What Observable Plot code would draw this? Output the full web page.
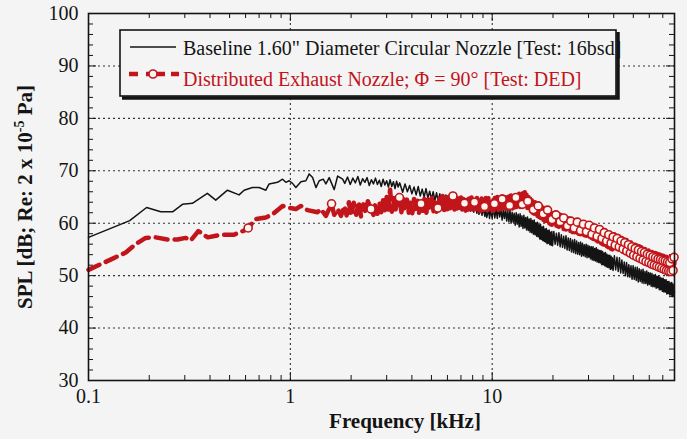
<!DOCTYPE html>
<html><head><meta charset="utf-8">
<script src="https://cdn.jsdelivr.net/npm/d3@7"></script>
<script src="https://cdn.jsdelivr.net/npm/@observablehq/plot@0.6"></script>
<style>
html,body{margin:0;padding:0;background:#f4f4f4;}
#chart{position:relative;width:687px;height:439px;}
</style></head><body><div id="chart"></div>
<script>
// Baseline 1.60" circular nozzle [16bsd]
const baseFreq = [0.10,0.16,0.194,0.228,0.262,0.292,0.327,0.388,0.427,0.488,0.557,0.590,0.649,0.700,0.756,0.785,0.864,0.915,0.950,0.986,1.025,1.065,1.128,1.194,1.240,1.289,1.339,1.390,1.455,1.500,1.558,1.649,1.715,1.816,
1.86,1.92,1.98,2.04,2.10,2.16,2.22,2.28,2.34,2.40,2.46,2.52,2.58,2.64,2.70,2.76,2.82,2.88,2.94,3.00,3.06,3.12,3.18,3.24,3.30,3.36,3.42,3.48,
3.6,3.7,3.8,3.9,4.0,4.1,4.2,4.3,4.4,4.5,4.6,4.7,4.8,4.9,5.0,5.1,5.2,5.3,5.4,5.5,5.6,5.7,5.8,5.9,6.0,6.2,6.3,6.4,6.5,6.6,6.7,6.8,6.9,7.0,7.1,7.2,7.3,7.5,7.6,7.7,7.8,8.0,8.1,8.2,8.4,8.5,8.6,8.8,8.9,9.0,9.2,9.3,9.4,9.6,9.7,9.8,10.0,
10.15,10.3,10.45,10.6,10.75,10.9,11.05,11.2,11.35,11.5,11.65,11.8,11.95,12.1,12.25,12.4,12.55,12.7,12.85,13.0,13.15,13.3,13.45,13.6,13.75,13.9,14.05,14.2,14.35,14.5,14.65,14.8,14.95,15.1,15.25,15.4,15.55,15.7,15.85,16.0,16.15,16.3,16.45,16.6,16.75,16.9,17.05,17.2,17.35,17.5,17.65,17.8,17.95,18.1,18.25,18.4,18.55,18.7,18.85,19.0,19.15,19.3,19.45,19.6,19.75,19.9,
20.2,20.5,20.8,21.1,21.4,21.7,22.0,22.3,22.6,22.9,23.2,23.5,23.8,24.1,24.4,24.7,25.0,25.3,25.6,25.9,26.2,26.5,26.8,27.1,27.4,27.7,28.0,28.3,28.6,28.9,29.2,29.5,29.8,30.1,30.4,30.7,31.0,31.3,31.6,31.9,32.2,32.5,32.8,33.1,33.4,33.7,34.0,34.3,34.6,34.9,35.2,35.5,35.8,36.1,36.4,36.7,37.0,37.3,37.6,37.9,38.2,38.5,38.8,39.1,39.4,39.7,
40.3,40.9,41.5,42.1,42.7,43.3,43.9,44.5,45.1,45.7,46.3,46.9,47.5,48.1,48.7,49.3,49.9,50.5,51.1,51.7,52.3,52.9,53.5,54.1,54.7,55.3,55.9,56.5,57.1,57.7,58.3,58.9,59.5,60.1,60.7,61.3,61.9,62.5,63.1,63.7,64.3,64.9,65.5,66.1,66.7,67.3,67.9,68.5,69.1,69.7,70.3,70.9,71.5,72.1,72.7,73.3,73.9,74.5,75.1,75.7,76.3,76.9,77.5,78.1,78.7,79.3,80.0];
const baseSpl = [57.3,60.5,63.0,62.2,62.2,63.6,63.8,65.7,64.4,66.3,65.4,66.3,66.8,66.8,66.3,67.5,67.8,68.4,67.8,68.1,67.6,66.8,67.9,68.1,69.4,68.7,66.8,68.1,68.4,67.5,68.7,66.4,69.0,68.4,
67.6,68.8,67.4,68.6,67.7,68.9,67.3,68.5,67.8,68.7,67.2,68.3,67.5,68.6,67.4,68.2,67.0,68.4,67.3,68.1,66.9,68.3,67.0,67.9,66.6,68.0,66.9,67.7,
65.9,67.5,66.0,67.2,65.6,66.9,65.4,67.0,65.2,66.5,65.0,66.6,64.8,66.1,64.6,66.0,64.3,65.8,64.2,65.6,63.9,65.3,63.8,65.4,63.6,65.0,63.5,64.9,63.2,64.6,63.0,64.5,62.9,64.6,62.8,64.2,62.6,64.0,62.4,63.9,62.3,63.7,62.1,63.5,61.9,63.4,61.7,63.1,61.5,62.9,61.3,62.8,61.1,62.6,60.9,62.4,61.0,
63.1,61.0,62.7,60.9,63.0,61.2,62.8,60.6,62.5,60.9,62.7,60.4,62.3,60.3,62.5,60.0,62.1,60.2,61.9,59.6,62.0,59.8,61.7,59.3,61.8,59.4,61.4,59.0,61.5,59.1,61.1,58.7,61.2,58.6,60.8,58.3,60.9,58.2,60.5,57.9,60.6,57.8,60.1,57.5,60.2,57.4,59.7,57.0,59.8,56.9,59.3,56.7,59.4,56.5,58.9,56.4,59.0,56.1,58.6,56.2,58.7,55.9,58.3,55.8,58.4,55.7,
58.4,56.0,58.1,55.8,58.2,55.5,57.8,55.4,57.5,55.2,57.6,54.9,57.2,54.8,57.1,54.5,56.8,54.4,56.9,54.2,56.6,54.1,56.3,54.0,56.4,53.7,56.2,53.8,55.9,53.6,56.0,53.4,55.8,53.5,55.6,53.2,55.5,53.0,55.5,52.9,55.2,52.8,55.3,52.6,55.0,52.5,54.8,52.4,54.8,52.1,54.6,52.1,54.3,51.9,54.4,51.7,54.1,51.6,53.9,51.5,53.9,51.2,53.7,51.3,53.4,51.0,
53.8,51.1,53.5,50.8,53.4,50.5,53.0,50.4,52.6,50.0,52.5,49.8,52.1,49.7,51.9,49.3,51.9,49.3,51.6,49.1,51.6,48.8,51.3,48.9,51.1,48.6,51.2,48.5,50.8,48.5,50.9,48.2,50.6,48.3,50.5,48.0,50.4,47.9,50.1,47.9,50.2,47.6,49.9,47.7,49.9,47.3,49.7,47.3,49.5,47.0,49.5,46.9,49.2,46.9,49.2,46.5,48.9,46.6,48.9,46.3,48.6,46.3,48.7,46.0,48.4,46.2,47.0];

// Distributed exhaust nozzle, Phi = 90 deg [DED]
const dedFreq = [0.100,0.131,0.153,0.171,0.192,0.215,0.246,0.276,0.303,0.321,0.350,0.390,0.452,0.526,0.590,0.618,0.674,0.756,0.817,0.915,0.969,1.065,1.128,1.217,1.364,1.416,1.500,1.600,1.649,1.715,1.782,1.850,
1.90,1.95,2.00,2.06,2.12,2.18,2.24,2.30,2.36,2.42,2.51,2.58,2.64,2.70,2.76,2.82,2.88,2.94,3.00,3.06,3.12,3.18,3.24,3.30,3.38,3.47,3.55,3.62,3.70,3.78,3.86,3.94,4.02,4.10,4.18,4.26,4.34,4.44,4.52,4.62,4.72,4.82,4.92,5.02,5.12,5.22,5.30,5.38,5.48,5.58,5.68,5.78,5.88,5.98,6.08,6.18,6.28,6.39,6.50,6.60,6.70,6.80,6.90,7.00,7.10,7.20,7.29,7.40,7.50,7.60,7.70,7.80,7.90,8.00,8.17,8.30,8.40,8.50,8.62,8.74,8.86,9.00,9.16,9.30,9.44,9.58,9.72,9.86,10.00,
10.15,10.3,10.45,10.6,10.75,10.9,11.05,11.2,11.35,11.5,11.65,11.8,11.95,12.1,12.25,12.4,12.55,12.7,12.85,13.0,13.15,13.3,13.45,13.6,13.75,13.9,14.05,14.2,14.35,14.5,14.65,14.8,14.95,15.1,15.25,15.4,15.55,15.7,15.85,16.0,16.15,16.3,16.45,16.6,16.75,16.9,17.05,17.2,17.35,17.5,17.65,17.8,17.95,18.1,18.25,18.4,18.55,18.7,18.85,19.0,19.15,19.3,19.45,19.6,19.75,19.9,
20.2,20.5,20.8,21.1,21.4,21.7,22.0,22.3,22.6,22.9,23.2,23.5,23.8,24.1,24.4,24.7,25.0,25.3,25.6,25.9,26.2,26.5,26.8,27.1,27.4,27.7,28.0,28.3,28.6,28.9,29.2,29.5,29.8,30.1,30.4,30.7,31.0,31.3,31.6,31.9,32.2,32.5,32.8,33.1,33.4,33.7,34.0,34.3,34.6,34.9,35.2,35.5,35.8,36.1,36.4,36.7,37.0,37.3,37.6,37.9,38.2,38.5,38.8,39.1,39.4,39.7,
40.3,40.9,41.5,42.1,42.7,43.3,43.9,44.5,45.1,45.7,46.3,46.9,47.5,48.1,48.7,49.3,49.9,50.5,51.1,51.7,52.3,52.9,53.5,54.1,54.7,55.3,55.9,56.5,57.1,57.7,58.3,58.9,59.5,60.1,60.7,61.3,61.9,62.5,63.1,63.7,64.3,64.9,65.5,66.1,66.7,67.3,67.9,68.5,69.1,69.7,70.3,70.9,71.5,72.1,72.7,73.3,73.9,74.5,75.1,75.7,76.3,76.9,77.5,78.1,78.7,79.3,80.0];
const dedSpl = [51.1,53.2,54.4,56.0,57.2,57.3,56.9,56.9,57.2,56.7,58.5,57.3,57.8,57.8,58.6,59.1,60.8,61.1,61.7,63.3,63.0,62.7,63.3,62.5,62.1,62.7,61.4,63.7,61.6,62.7,61.4,63.3,
61.5,64.0,61.4,63.9,61.6,64.1,61.3,63.6,62.0,64.2,62.7,61.6,63.8,61.8,64.0,62.1,64.4,62.3,65.0,62.6,66.4,62.2,64.8,62.0,64.3,64.9,62.1,64.6,62.3,64.5,62.0,64.2,61.9,64.6,62.2,64.3,62.0,63.7,62.1,64.9,62.0,64.5,62.4,64.8,62.3,64.6,62.2,62.9,64.7,62.4,65.2,62.5,64.9,62.6,65.0,62.7,64.8,65.2,62.6,64.9,62.8,64.7,62.5,64.9,62.6,64.6,63.8,62.4,64.8,62.6,64.7,62.3,64.9,62.6,64.0,62.5,64.8,62.6,64.6,62.3,64.7,62.5,63.2,64.8,62.4,64.9,62.7,64.7,62.6,
62.4,64.8,62.6,65.0,62.5,64.9,62.7,65.1,62.6,65.0,62.8,65.2,62.7,65.1,62.9,65.3,62.8,65.2,63.0,65.4,63.1,65.3,63.2,65.6,63.1,65.5,63.3,65.7,63.4,65.9,63.5,65.8,62.9,65.0,62.6,64.7,62.3,64.4,62.0,64.2,61.8,64.0,61.6,63.8,61.4,63.6,61.2,63.4,61.0,63.2,60.8,63.0,60.6,62.8,60.4,62.6,60.3,62.4,60.1,62.3,60.0,62.1,59.8,62.0,59.7,61.9,
59.6,62.0,59.5,61.8,59.3,61.6,59.1,61.4,58.9,61.2,58.8,61.0,58.6,60.9,58.5,60.7,58.3,60.6,58.2,60.5,58.1,60.4,58.0,60.3,57.9,60.2,57.8,60.1,57.7,60.0,57.6,59.9,57.5,59.8,57.4,59.6,57.2,59.4,57.0,59.2,56.8,59.1,56.7,58.9,56.5,58.8,56.4,58.6,56.2,58.4,56.0,58.3,55.9,58.1,55.7,58.0,55.6,57.9,55.4,57.7,55.3,57.6,55.1,57.5,55.0,57.3,
57.9,55.2,57.7,55.0,57.4,54.8,57.2,54.5,57.0,54.3,56.8,54.1,56.6,53.9,56.3,53.6,56.1,53.4,55.9,53.2,55.7,53.0,55.6,52.9,55.4,52.7,55.3,52.6,55.1,52.4,55.0,52.3,54.8,52.1,54.7,52.0,54.5,51.8,54.4,51.7,54.3,51.6,54.2,51.5,54.1,51.4,54.0,51.3,53.9,51.2,53.8,51.1,53.7,51.0,53.6,50.9,53.5,50.8,53.4,50.7,53.4,50.6,53.3,50.6,53.2,50.5,52.8];

// Symbols drawn on the DED curve
const markFreq = [0.618,1.60,2.51,3.47,4.44,5.38,6.39,7.29,8.17,9.16,10.26,11.2,12.2,13.1,14.1,15.0,16.0,16.9,17.9,18.8,19.8,20.7,21.7,22.6,23.6,24.5,25.5,26.4,27.4,28.3,29.3,30.2,31.2,32.1,33.1,34.0,35.0,35.9,36.9,37.8,38.8,39.7,40.7,41.6,42.6,43.5,44.5,45.4,46.4,47.3,48.3,49.2,50.2,51.1,52.1,53.0,54.0,54.9,55.9,56.8,57.8,58.7,59.7,60.6,61.6,62.5,63.5,64.4,65.4,66.3,67.3,68.2,69.2,70.1,71.1,72.0,73.0,73.9,74.9,75.8,76.8,77.7,78.7,79.6];
const markSpl = [59.1,63.7,62.7,64.9,63.7,62.9,65.2,63.8,64.0,63.2,63.7,64.6,63.4,64.9,63.6,64.2,62.6,63.3,61.8,62.5,60.7,61.6,60.3,61.0,59.5,60.4,59.1,60.2,58.6,59.8,58.4,59.6,57.9,59.1,57.5,58.8,57.1,58.2,56.6,57.8,56.2,57.4,55.8,57.1,55.5,56.6,55.1,56.3,54.7,55.9,54.3,55.5,53.9,55.2,53.6,54.9,53.3,54.6,53.0,54.4,52.7,54.1,52.5,53.9,52.2,53.6,52.0,53.4,51.8,53.2,51.6,53.1,51.4,52.9,51.2,52.8,51.0,52.6,50.9,52.5,50.8,53.2,51.0,53.5];

const yTickLabels = [30,40,50,60,70,80,90,100];
const yGrid = [40,50,60,70,80,90];
const yMinor = [32,34,36,38,42,44,46,48,52,54,56,58,62,64,66,68,72,74,76,78,82,84,86,88,92,94,96,98];
const xTickLabels = [0.1,1,10,80];
const xGrid = [1,10];
const xMinor = [0.2,0.3,0.4,0.5,0.6,0.7,0.8,0.9,2,3,4,5,6,7,8,9,20,30,40,50,60,70];

const RED = "#c1151b", INK = "#141414", BG = "#f4f4f4";
const W = 687, H = 439, ML = 88, MR = 13, MT = 13, MB = 59;
const IW = W - ML - MR, IH = H - MT - MB;

const bi = d3.range(baseFreq.length), di = d3.range(dedFreq.length), mi = d3.range(markFreq.length);

const plot = Plot.plot({
  width: W, height: H,
  marginLeft: ML, marginRight: MR, marginTop: MT, marginBottom: MB,
  style: {background: BG, fontFamily: "Liberation Serif", fontSize: "20px", color: INK},
  x: {type: "log", domain: [0.1, 80]},
  y: {domain: [30, 100]},
  marks: [
    Plot.ruleY(yGrid, {y: d => d, stroke: "#333", strokeWidth: 1.1, strokeDasharray: "2,3"}),
    Plot.ruleX(xGrid, {x: d => d, stroke: "#333", strokeWidth: 1.1, strokeDasharray: "2,3"}),
    Plot.tickY(yMinor, {y: d => d, insetRight: IW - 5, stroke: INK}),
    Plot.tickY(yGrid, {y: d => d, insetRight: IW - 8, stroke: INK}),
    Plot.tickY(yMinor, {y: d => d, insetLeft: IW - 5, stroke: INK}),
    Plot.tickY(yGrid, {y: d => d, insetLeft: IW - 8, stroke: INK}),
    Plot.tickX(xMinor, {x: d => d, insetTop: IH - 5, stroke: INK}),
    Plot.tickX(xGrid, {x: d => d, insetTop: IH - 8, stroke: INK}),
    Plot.tickX(xMinor, {x: d => d, insetBottom: IH - 5, stroke: INK}),
    Plot.tickX(xGrid, {x: d => d, insetBottom: IH - 8, stroke: INK}),
    Plot.line(bi, {x: i => baseFreq[i], y: i => baseSpl[i], stroke: INK, strokeWidth: 1.5}),
    Plot.line(di, {x: i => dedFreq[i], y: i => dedSpl[i], stroke: RED, strokeWidth: 4.5, strokeDasharray: "12,7"}),
    Plot.dot(mi, {x: i => markFreq[i], y: i => markSpl[i], r: 4, stroke: RED, strokeWidth: 1.6, fill: "#fbf6f0"}),
    Plot.frame({stroke: INK, strokeWidth: 1.6}),
    Plot.axisY({ticks: yTickLabels, tickSize: 0, tickPadding: 10, label: null, fontSize: 20}),
    Plot.axisX({ticks: xTickLabels, tickFormat: d => String(d), tickSize: 0, tickPadding: 8, label: null, fontSize: 20})
  ]
});
document.getElementById("chart").appendChild(plot);

const svg = d3.select(plot);
// axis titles
svg.append("text").attr("x", 405).attr("y", 428).attr("text-anchor", "middle")
  .attr("font-family", "Liberation Serif").attr("font-weight", "bold").attr("font-size", 21).attr("fill", INK)
  .text("Frequency [kHz]");
const yt = svg.append("text").attr("transform", "translate(32,197) rotate(-90)").attr("text-anchor", "middle")
  .attr("font-family", "Liberation Serif").attr("font-weight", "bold").attr("font-size", 21).attr("fill", INK);
yt.append("tspan").text("SPL [dB; Re: 2 x 10");
yt.append("tspan").attr("dy", -8).attr("font-size", 14).text("-5");
yt.append("tspan").attr("dy", 8).text(" Pa]");

// legend
const lg = svg.append("g").attr("font-family", "Liberation Serif").attr("text-anchor", "start");
lg.append("rect").attr("x", 120).attr("y", 30).attr("width", 496).attr("height", 66).attr("fill", BG);
lg.append("line").attr("x1", 130).attr("x2", 176).attr("y1", 47).attr("y2", 47).attr("stroke", INK).attr("stroke-width", 1.4);
[[129,138],[146,165],[171,179]].forEach(([a, b]) =>
  lg.append("line").attr("x1", a).attr("x2", b).attr("y1", 74).attr("y2", 74).attr("stroke", RED).attr("stroke-width", 4.5));
lg.append("circle").attr("cx", 153).attr("cy", 74).attr("r", 4).attr("fill", "#fbf6f0").attr("stroke", RED).attr("stroke-width", 1.6);
lg.append("text").attr("x", 183).attr("y", 55).attr("font-size", 20).attr("fill", INK).attr("text-anchor", "start")
  .text("Baseline 1.60\" Diameter Circular Nozzle [Test: 16bsd]");
lg.append("text").attr("x", 183).attr("y", 86).attr("font-size", 20).attr("fill", RED).attr("text-anchor", "start")
  .text("Distributed Exhaust Nozzle; \u03A6 = 90\u00B0 [Test: DED]");
lg.append("rect").attr("x", 120).attr("y", 30).attr("width", 496).attr("height", 66).attr("fill", "none").attr("stroke", INK).attr("stroke-width", 1.6);
lg.append("path").attr("d", "M618,32V98H122").attr("fill", "none").attr("stroke", INK).attr("stroke-width", 3.5);
</script></body></html>
